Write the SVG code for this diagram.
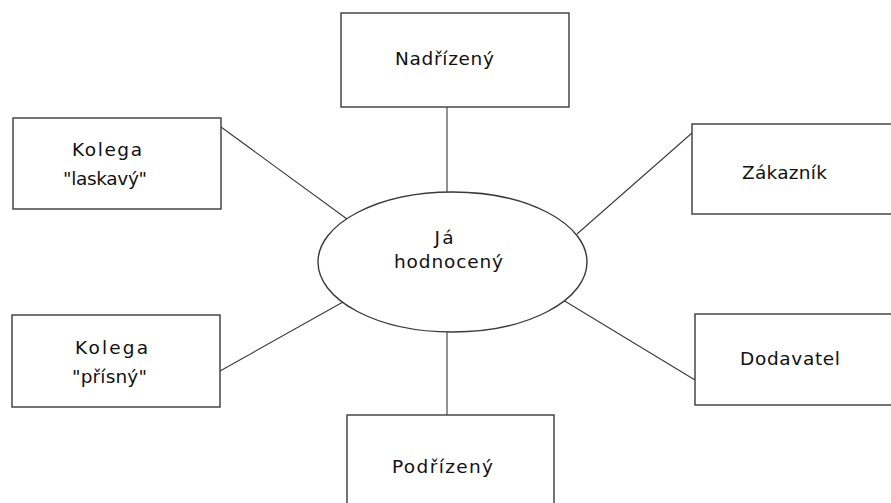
<svg xmlns="http://www.w3.org/2000/svg" width="891" height="503" viewBox="0 0 891 503">
<style>
.box{fill:#fff;stroke:#3a3a3a;stroke-width:1.4}
.ln{stroke:#3a3a3a;stroke-width:1.1;fill:none}
text{font-family:"DejaVu Sans",Verdana,sans-serif;font-size:18.5px;fill:#111;text-anchor:middle}
</style>
<rect width="891" height="503" fill="#fff"/>
<g id="connectors">
<line class="ln" x1="447" y1="107" x2="447" y2="192"/>
<line class="ln" x1="447" y1="332" x2="447" y2="415"/>
<line class="ln" x1="221" y1="127" x2="347" y2="219"/>
<line class="ln" x1="692" y1="133" x2="577" y2="234"/>
<line class="ln" x1="220" y1="371" x2="343" y2="302"/>
<line class="ln" x1="695" y1="380" x2="563" y2="300"/>
</g>
<g id="nadrizeny">
<rect class="box" x="341" y="13" width="228" height="94"/>
<text x="444.5" y="65" textLength="99" lengthAdjust="spacing">Nadřízený</text>
</g>
<g id="kolega-laskavy">
<rect class="box" x="13" y="118" width="208" height="91"/>
<text x="107" y="156" textLength="70" lengthAdjust="spacing">Kolega</text>
<text x="105" y="185" textLength="84" lengthAdjust="spacing">"laskavý"</text>
</g>
<g id="zakaznik">
<rect class="box" x="692" y="124" width="210" height="90"/>
<text x="784.5" y="179" textLength="85" lengthAdjust="spacing">Zákazník</text>
</g>
<g id="kolega-prisny">
<rect class="box" x="12" y="315" width="208" height="92"/>
<text x="111.5" y="354" textLength="73" lengthAdjust="spacing">Kolega</text>
<text x="109.5" y="383" textLength="75" lengthAdjust="spacing">"přísný"</text>
</g>
<g id="dodavatel">
<rect class="box" x="695" y="314" width="210" height="91"/>
<text x="790" y="365" textLength="100" lengthAdjust="spacing">Dodavatel</text>
</g>
<g id="podrizeny">
<rect class="box" x="347" y="415" width="207" height="100"/>
<text x="442.5" y="473" textLength="101" lengthAdjust="spacing">Podřízený</text>
</g>
<g id="ja-hodnoceny">
<ellipse class="box" cx="452.5" cy="262" rx="134.5" ry="70"/>
<text x="444" y="244" textLength="19" lengthAdjust="spacing">Já</text>
<text x="448.5" y="268" textLength="109" lengthAdjust="spacing">hodnocený</text>
</g>
</svg>
